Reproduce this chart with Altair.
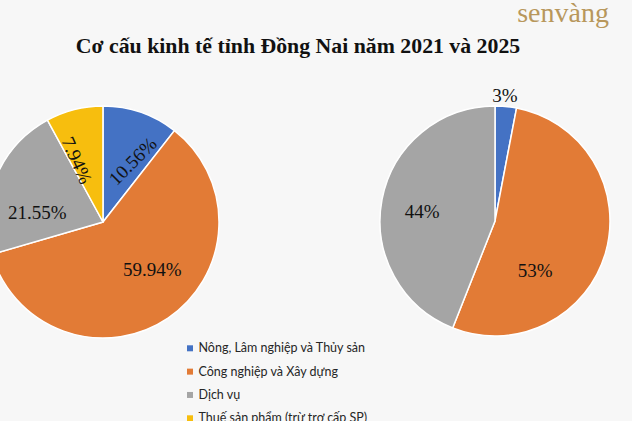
import altair as alt
import pandas as pd

# ---- data ----
categories = [
    "Nông, Lâm nghiệp và Thủy sản",
    "Công nghiệp và Xây dựng",
    "Dịch vụ",
    "Thuế sản phẩm (trừ trợ cấp SP)",
]
colors = ["#4472C4", "#E27B36", "#A5A5A5", "#F7BE0E"]

share_2021 = [10.56, 59.94, 21.55, 7.94]
labels_2021 = ["10.56%", "59.94%", "21.55%", "7.94%"]

share_2025 = [3, 53, 44]
labels_2025 = ["3%", "53%", "44%"]

title_text = "Cơ cấu kinh tế tỉnh Đồng Nai năm 2021 và 2025"
logo_text = "senvàng"

df21 = pd.DataFrame({"idx": range(4), "category": categories,
                     "value": share_2021, "label": labels_2021})
df25 = pd.DataFrame({"idx": range(3), "category": categories[:3],
                     "value": share_2025, "label": labels_2025})
df_leg = pd.DataFrame({"category": categories})

theta_scale = alt.Scale(domain=[0, 100])
color_scale = alt.Scale(domain=categories, range=colors)
SERIF = "Liberation Serif"


def pie(df, cx, cy, R, label_styles):
    arcs = alt.Chart(df).mark_arc(outerRadius=R, stroke="white", strokeWidth=1.5).encode(
        theta=alt.Theta("value:Q", stack=True, scale=theta_scale),
        color=alt.Color("category:N", scale=color_scale, legend=None),
        order=alt.Order("idx:Q"),
        x=alt.value(cx), y=alt.value(cy),
    )
    layers = [arcs]
    for i, st in enumerate(label_styles):
        r, ang, ddx, ddy = st
        lbl = (
            alt.Chart(df)
            .transform_window(cum="sum(value)", sort=[alt.SortField("idx")], frame=[None, 0])
            .transform_calculate(mid="datum.cum - datum.value / 2")
            .transform_filter(alt.datum.idx == i)
            .mark_text(radius=r, angle=ang, dx=ddx, dy=ddy, fontSize=19, font=SERIF,
                       color="#111111", align="center", baseline="middle")
            .encode(
                theta=alt.Theta("mid:Q", stack=None, scale=theta_scale),
                text="label:N",
                x=alt.value(cx), y=alt.value(cy),
            )
        )
        layers.append(lbl)
    return layers


# (radius, angle, dx, dy) per label
left = pie(df21, 103, 222, 116, [(70, 315, 1, 9), (70, 0, 10, -10), (70, 0, -1, 18), (70, 66, 2, 11)])
right = pie(df25, 495, 221, 115, [(126, 0, -2, 0), (70, 0, -27, 30), (70, 0, -4, 4)])

leg_y = alt.Y("category:N", scale=alt.Scale(domain=categories, range=[348.3, 418.3], type="point", padding=0), axis=None)
leg_sq = alt.Chart(df_leg).mark_square(size=36, opacity=1).encode(
    x=alt.value(190), y=leg_y,
    color=alt.Color("category:N", scale=color_scale, legend=None),
)
leg_tx = alt.Chart(df_leg).mark_text(align="left", baseline="middle", font="Lato",
                                     fontSize=12.5, color="#262626").encode(
    x=alt.value(198.5), y=leg_y, text="category:N",
)

title = alt.Chart(pd.DataFrame({"t": [title_text]})).mark_text(
    font=SERIF, fontSize=21.8, fontWeight="bold", color="#111111",
    align="center", baseline="alphabetic").encode(
    x=alt.value(298), y=alt.value(53), text="t:N")

logo = alt.Chart(pd.DataFrame({"t": [logo_text]})).mark_text(
    font=SERIF, fontSize=28, color="#B8975C", align="center", baseline="alphabetic").encode(
    x=alt.value(563), y=alt.value(22), text="t:N")

chart = alt.layer(*left, *right, leg_sq, leg_tx, title, logo).properties(
    width=632, height=421, autosize="none", padding=0, background="#F7F7F7",
).configure_view(stroke=None).configure_text(font=SERIF)

chart.save("out.html", embed_options={"renderer": "svg", "actions": False})
